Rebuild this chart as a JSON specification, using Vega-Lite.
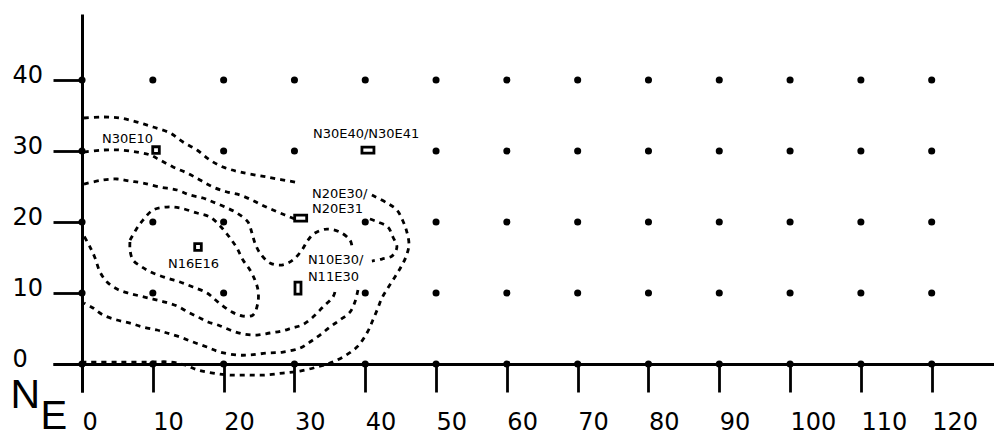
{
  "$schema": "https://vega.github.io/schema/vega-lite/v6.json",
  "width": 941,
  "height": 378,
  "autosize": {"type": "none"},
  "padding": {"left": 53, "top": 14, "right": 0, "bottom": 44},
  "background": "white",
  "config": {"view": {"stroke": null}},
  "datasets": {
    "dots": [
      {"E":0,"N":0},{"E":10,"N":0},{"E":20,"N":0},{"E":30,"N":0},{"E":40,"N":0},{"E":50,"N":0},{"E":60,"N":0},{"E":70,"N":0},{"E":80,"N":0},{"E":90,"N":0},{"E":100,"N":0},{"E":110,"N":0},{"E":120,"N":0},
      {"E":0,"N":10},{"E":10,"N":10},{"E":20,"N":10},{"E":40,"N":10},{"E":50,"N":10},{"E":60,"N":10},{"E":70,"N":10},{"E":80,"N":10},{"E":90,"N":10},{"E":100,"N":10},{"E":110,"N":10},{"E":120,"N":10},
      {"E":0,"N":20},{"E":10,"N":20},{"E":20,"N":20},{"E":40,"N":20},{"E":50,"N":20},{"E":60,"N":20},{"E":70,"N":20},{"E":80,"N":20},{"E":90,"N":20},{"E":100,"N":20},{"E":110,"N":20},{"E":120,"N":20},
      {"E":0,"N":30},{"E":20,"N":30},{"E":30,"N":30},{"E":50,"N":30},{"E":60,"N":30},{"E":70,"N":30},{"E":80,"N":30},{"E":90,"N":30},{"E":100,"N":30},{"E":110,"N":30},{"E":120,"N":30},
      {"E":0,"N":40},{"E":10,"N":40},{"E":20,"N":40},{"E":30,"N":40},{"E":40,"N":40},{"E":50,"N":40},{"E":60,"N":40},{"E":70,"N":40},{"E":80,"N":40},{"E":90,"N":40},{"E":100,"N":40},{"E":110,"N":40},{"E":120,"N":40}
    ],
    "contours": [
      {"seg":"A1","i":1,"E":0.28,"N":34.65},{"seg":"A1","i":2,"E":2.96,"N":34.79},{"seg":"A1","i":3,"E":5.36,"N":34.65},{"seg":"A1","i":4,"E":7.77,"N":34.08},{"seg":"A1","i":5,"E":10.02,"N":33.38},{"seg":"A1","i":6,"E":12.43,"N":32.54},{"seg":"A1","i":7,"E":14.26,"N":31.27},{"seg":"A1","i":8,"E":16.24,"N":30.14},{"seg":"A1","i":9,"E":18.07,"N":28.73},{"seg":"A1","i":10,"E":19.91,"N":27.75},{"seg":"A1","i":11,"E":22.31,"N":27.04},{"seg":"A1","i":12,"E":26.12,"N":26.34},{"seg":"A1","i":13,"E":30.78,"N":25.49},
      {"seg":"A2","i":1,"E":40.94,"N":23.8},{"seg":"A2","i":2,"E":43.06,"N":22.68},{"seg":"A2","i":3,"E":44.47,"N":21.69},{"seg":"A2","i":4,"E":45.32,"N":20.14},{"seg":"A2","i":5,"E":45.88,"N":18.59},{"seg":"A2","i":6,"E":46.17,"N":16.76},{"seg":"A2","i":7,"E":45.74,"N":15.07},{"seg":"A2","i":8,"E":45.04,"N":13.66},{"seg":"A2","i":9,"E":44.19,"N":12.25},{"seg":"A2","i":10,"E":43.2,"N":10.7},{"seg":"A2","i":11,"E":42.36,"N":9.3},{"seg":"A2","i":12,"E":41.79,"N":7.89},{"seg":"A2","i":13,"E":41.08,"N":6.2},{"seg":"A2","i":14,"E":40.24,"N":4.37},{"seg":"A2","i":15,"E":38.83,"N":2.39},{"seg":"A2","i":16,"E":36.85,"N":0.99},{"seg":"A2","i":17,"E":35.01,"N":0.14},{"seg":"A2","i":18,"E":33.18,"N":-0.42},{"seg":"A2","i":19,"E":30.78,"N":-0.99},{"seg":"A2","i":20,"E":28.38,"N":-1.27},{"seg":"A2","i":21,"E":25.84,"N":-1.55},{"seg":"A2","i":22,"E":23.3,"N":-1.55},{"seg":"A2","i":23,"E":20.9,"N":-1.55},{"seg":"A2","i":24,"E":18.49,"N":-1.27},{"seg":"A2","i":25,"E":16.38,"N":-0.85},{"seg":"A2","i":26,"E":14.54,"N":-0.14},{"seg":"A2","i":27,"E":12.42,"N":0.28},{"seg":"A2","i":28,"E":9.6,"N":0.28},{"seg":"A2","i":29,"E":5.36,"N":0.28},{"seg":"A2","i":30,"E":1.13,"N":0.28},{"seg":"A2","i":31,"E":0.28,"N":0.28},
      {"seg":"B1","i":1,"E":0.28,"N":29.86},{"seg":"B1","i":2,"E":2.96,"N":30.14},{"seg":"B1","i":3,"E":5.36,"N":30.14},{"seg":"B1","i":4,"E":7.77,"N":29.86},{"seg":"B1","i":5,"E":9.6,"N":29.44},{"seg":"B1","i":6,"E":11.01,"N":28.73},{"seg":"B1","i":7,"E":12.85,"N":27.75},{"seg":"B1","i":8,"E":14.83,"N":26.9},{"seg":"B1","i":9,"E":16.66,"N":25.92},{"seg":"B1","i":10,"E":18.49,"N":24.93},{"seg":"B1","i":11,"E":20.47,"N":24.23},{"seg":"B1","i":12,"E":22.31,"N":23.8},{"seg":"B1","i":13,"E":24.0,"N":23.1},{"seg":"B1","i":14,"E":25.41,"N":22.39},{"seg":"B1","i":15,"E":26.97,"N":21.69},{"seg":"B1","i":16,"E":28.66,"N":20.99},{"seg":"B1","i":17,"E":30.07,"N":20.42},
      {"seg":"B2","i":1,"E":40.66,"N":20.42},{"seg":"B2","i":2,"E":41.79,"N":20.0},{"seg":"B2","i":3,"E":43.2,"N":19.3},{"seg":"B2","i":4,"E":43.91,"N":17.89},{"seg":"B2","i":5,"E":44.47,"N":16.48},{"seg":"B2","i":6,"E":43.77,"N":15.21},{"seg":"B2","i":7,"E":42.36,"N":14.79},{"seg":"B2","i":8,"E":40.94,"N":14.51},
      {"seg":"B3","i":1,"E":38.97,"N":10.42},{"seg":"B3","i":2,"E":38.54,"N":8.73},{"seg":"B3","i":3,"E":37.84,"N":7.32},{"seg":"B3","i":4,"E":36.42,"N":6.2},{"seg":"B3","i":5,"E":35.01,"N":5.21},{"seg":"B3","i":6,"E":33.6,"N":4.08},{"seg":"B3","i":7,"E":32.19,"N":3.1},{"seg":"B3","i":8,"E":30.78,"N":2.25},{"seg":"B3","i":9,"E":28.38,"N":1.69},{"seg":"B3","i":10,"E":26.12,"N":1.55},{"seg":"B3","i":11,"E":23.72,"N":1.27},{"seg":"B3","i":12,"E":21.88,"N":1.27},{"seg":"B3","i":13,"E":19.48,"N":1.69},{"seg":"B3","i":14,"E":17.65,"N":2.39},{"seg":"B3","i":15,"E":15.67,"N":3.1},{"seg":"B3","i":16,"E":13.84,"N":3.8},{"seg":"B3","i":17,"E":12.0,"N":4.37},{"seg":"B3","i":18,"E":10.59,"N":4.79},{"seg":"B3","i":19,"E":8.61,"N":5.21},{"seg":"B3","i":20,"E":6.78,"N":5.77},{"seg":"B3","i":21,"E":4.94,"N":6.2},{"seg":"B3","i":22,"E":2.96,"N":6.9},{"seg":"B3","i":23,"E":1.55,"N":7.89},{"seg":"B3","i":24,"E":0.28,"N":8.59},
      {"seg":"C1","i":1,"E":0.28,"N":25.35},{"seg":"C1","i":2,"E":2.96,"N":25.92},{"seg":"C1","i":3,"E":4.94,"N":26.06},{"seg":"C1","i":4,"E":6.78,"N":25.77},{"seg":"C1","i":5,"E":8.61,"N":25.49},{"seg":"C1","i":6,"E":11.01,"N":24.93},{"seg":"C1","i":7,"E":13.41,"N":24.51},{"seg":"C1","i":8,"E":15.25,"N":23.8},{"seg":"C1","i":9,"E":17.08,"N":23.38},{"seg":"C1","i":10,"E":18.49,"N":22.82},{"seg":"C1","i":11,"E":20.19,"N":22.11},{"seg":"C1","i":12,"E":21.88,"N":21.27},{"seg":"C1","i":13,"E":23.44,"N":20.0},{"seg":"C1","i":14,"E":24.0,"N":18.45},{"seg":"C1","i":15,"E":24.42,"N":17.04},{"seg":"C1","i":16,"E":25.13,"N":15.63},{"seg":"C1","i":17,"E":26.54,"N":14.23},{"seg":"C1","i":18,"E":28.24,"N":13.94},{"seg":"C1","i":19,"E":29.79,"N":14.65},{"seg":"C1","i":20,"E":31.06,"N":16.06},{"seg":"C1","i":21,"E":31.91,"N":17.46},{"seg":"C1","i":22,"E":32.9,"N":18.45},{"seg":"C1","i":23,"E":34.59,"N":19.01},{"seg":"C1","i":24,"E":36.42,"N":18.59},{"seg":"C1","i":25,"E":37.84,"N":17.46},{"seg":"C1","i":26,"E":38.12,"N":16.62},
      {"seg":"C2","i":1,"E":35.72,"N":10.14},{"seg":"C2","i":2,"E":35.44,"N":9.44},{"seg":"C2","i":3,"E":34.03,"N":8.03},{"seg":"C2","i":4,"E":32.47,"N":6.48},{"seg":"C2","i":5,"E":31.06,"N":5.49},{"seg":"C2","i":6,"E":29.65,"N":5.07},{"seg":"C2","i":7,"E":28.24,"N":4.65},{"seg":"C2","i":8,"E":26.54,"N":4.37},{"seg":"C2","i":9,"E":24.71,"N":4.08},{"seg":"C2","i":10,"E":22.73,"N":4.23},{"seg":"C2","i":11,"E":20.9,"N":4.79},{"seg":"C2","i":12,"E":19.2,"N":5.49},{"seg":"C2","i":13,"E":17.79,"N":5.92},{"seg":"C2","i":14,"E":16.38,"N":6.62},{"seg":"C2","i":15,"E":14.97,"N":7.32},{"seg":"C2","i":16,"E":13.41,"N":8.17},{"seg":"C2","i":17,"E":11.72,"N":8.73},{"seg":"C2","i":18,"E":10.02,"N":9.15},{"seg":"C2","i":19,"E":8.19,"N":9.58},{"seg":"C2","i":20,"E":6.49,"N":10.0},{"seg":"C2","i":21,"E":4.94,"N":10.56},{"seg":"C2","i":22,"E":3.53,"N":11.55},{"seg":"C2","i":23,"E":2.54,"N":12.96},{"seg":"C2","i":24,"E":1.84,"N":14.93},{"seg":"C2","i":25,"E":1.13,"N":16.48},{"seg":"C2","i":26,"E":0.28,"N":18.03},
      {"seg":"D","i":1,"E":6.78,"N":17.46},{"seg":"D","i":2,"E":7.77,"N":19.15},{"seg":"D","i":3,"E":8.61,"N":20.28},{"seg":"D","i":4,"E":10.02,"N":21.69},{"seg":"D","i":5,"E":12.0,"N":22.11},{"seg":"D","i":6,"E":13.84,"N":21.97},{"seg":"D","i":7,"E":16.24,"N":21.27},{"seg":"D","i":8,"E":18.07,"N":20.7},{"seg":"D","i":9,"E":19.77,"N":19.15},{"seg":"D","i":10,"E":20.9,"N":17.75},{"seg":"D","i":11,"E":21.88,"N":16.34},{"seg":"D","i":12,"E":22.73,"N":14.65},{"seg":"D","i":13,"E":23.72,"N":13.24},{"seg":"D","i":14,"E":24.42,"N":11.83},{"seg":"D","i":15,"E":24.85,"N":10.42},{"seg":"D","i":16,"E":24.85,"N":8.73},{"seg":"D","i":17,"E":24.14,"N":6.9},{"seg":"D","i":18,"E":22.73,"N":6.76},{"seg":"D","i":19,"E":21.18,"N":7.32},{"seg":"D","i":20,"E":19.2,"N":8.73},{"seg":"D","i":21,"E":17.65,"N":10.0},{"seg":"D","i":22,"E":15.67,"N":10.85},{"seg":"D","i":23,"E":13.84,"N":11.55},{"seg":"D","i":24,"E":12.0,"N":12.11},{"seg":"D","i":25,"E":10.02,"N":12.82},{"seg":"D","i":26,"E":8.47,"N":13.66},{"seg":"D","i":27,"E":7.2,"N":14.65},{"seg":"D","i":28,"E":6.78,"N":16.06},{"seg":"D","i":29,"E":6.78,"N":17.46}
    ],
    "boxes": [
      {"id":"N30E10","E":10.45,"N":30.14,"kind":"small"},
      {"id":"N30E40","E":40.38,"N":30.14,"kind":"wide"},
      {"id":"N20E30","E":30.88,"N":20.56,"kind":"wide"},
      {"id":"N10E30","E":30.5,"N":10.7,"kind":"tall"},
      {"id":"N16E16","E":16.38,"N":16.48,"kind":"small"}
    ],
    "labels": [
      {"label":"N30E10","E":2.82,"N":31.13},
      {"label":"N30E40/N30E41","E":32.61,"N":31.83},
      {"label":"N20E30/","E":32.47,"N":23.38},
      {"label":"N20E31","E":32.47,"N":21.27},
      {"label":"N16E16","E":12.14,"N":13.52},
      {"label":"N10E30/","E":31.9,"N":14.08},
      {"label":"N11E30","E":31.9,"N":11.69}
    ]
  },
  "encoding": {
    "x": {
      "field": "E", "type": "quantitative",
      "scale": {"domain": [-4.1, 128.8], "nice": false, "zero": false},
      "axis": {
        "orient": "bottom", "offset": -28,
        "values": [0,10,20,30,40,50,60,70,80,90,100,110,120],
        "grid": false,
        "domainColor": "black", "domainWidth": 3,
        "tickColor": "black", "tickWidth": 2.8, "tickSize": 28,
        "labelAlign": "left", "labelBaseline": "top", "labelPadding": 18,
        "labelFont": "DejaVu Sans", "labelFontSize": 24, "labelColor": "black",
        "labelFlush": false, "labelOverlap": false, "labelBound": false,
        "title": "E", "titleFont": "Liberation Sans", "titleFontSize": 40, "titleFontWeight": "normal",
        "titleColor": "black", "titleAlign": "left", "titleBaseline": "alphabetic",
        "titleX": -13, "titleY": 64, "titleAngle": 0
      }
    },
    "y": {
      "field": "N", "type": "quantitative",
      "scale": {"domain": [-3.94, 49.3], "nice": false, "zero": false},
      "axis": {
        "orient": "left", "offset": -29,
        "values": [0,10,20,30,40],
        "grid": false,
        "domainColor": "black", "domainWidth": 3,
        "tickColor": "black", "tickWidth": 2.8, "tickSize": 29,
        "labelAlign": "left", "labelBaseline": "alphabetic", "labelPadding": 41, "labelOffset": 2,
        "labelFont": "DejaVu Sans", "labelFontSize": 24, "labelColor": "black",
        "labelFlush": false, "labelOverlap": false, "labelBound": false,
        "title": "N", "titleFont": "Liberation Sans", "titleFontSize": 41, "titleFontWeight": "normal",
        "titleColor": "black", "titleAlign": "left", "titleBaseline": "alphabetic",
        "titleX": -72, "titleY": 393, "titleAngle": 0
      }
    }
  },
  "layer": [
    {
      "data": {"name": "contours"},
      "mark": {"type": "line", "color": "black", "strokeWidth": 2.8, "strokeDash": [5, 5], "interpolate": "catmull-rom"},
      "encoding": {
        "detail": {"field": "seg", "type": "nominal"},
        "order": {"field": "i", "type": "quantitative"}
      }
    },
    {
      "data": {"name": "dots"},
      "mark": {"type": "point", "shape": "circle", "filled": true, "color": "black", "size": 50, "opacity": 1}
    },
    {
      "data": {"name": "boxes"},
      "mark": {"type": "point", "filled": true, "fill": "white", "stroke": "black", "strokeWidth": 2.8, "size": 144, "opacity": 1},
      "encoding": {
        "shape": {
          "field": "kind", "type": "nominal",
          "scale": {
            "domain": ["wide", "tall", "small"],
            "range": ["M-1,-0.5L1,-0.5L1,0.5L-1,0.5Z", "M-0.5,-1L0.5,-1L0.5,1L-0.5,1Z", "M-0.55,-0.55L0.55,-0.55L0.55,0.55L-0.55,0.55Z"]
          },
          "legend": null
        }
      }
    },
    {
      "data": {"name": "labels"},
      "mark": {"type": "text", "align": "left", "baseline": "alphabetic", "font": "DejaVu Sans", "fontSize": 13, "color": "black"},
      "encoding": {"text": {"field": "label", "type": "nominal"}}
    }
  ]
}
